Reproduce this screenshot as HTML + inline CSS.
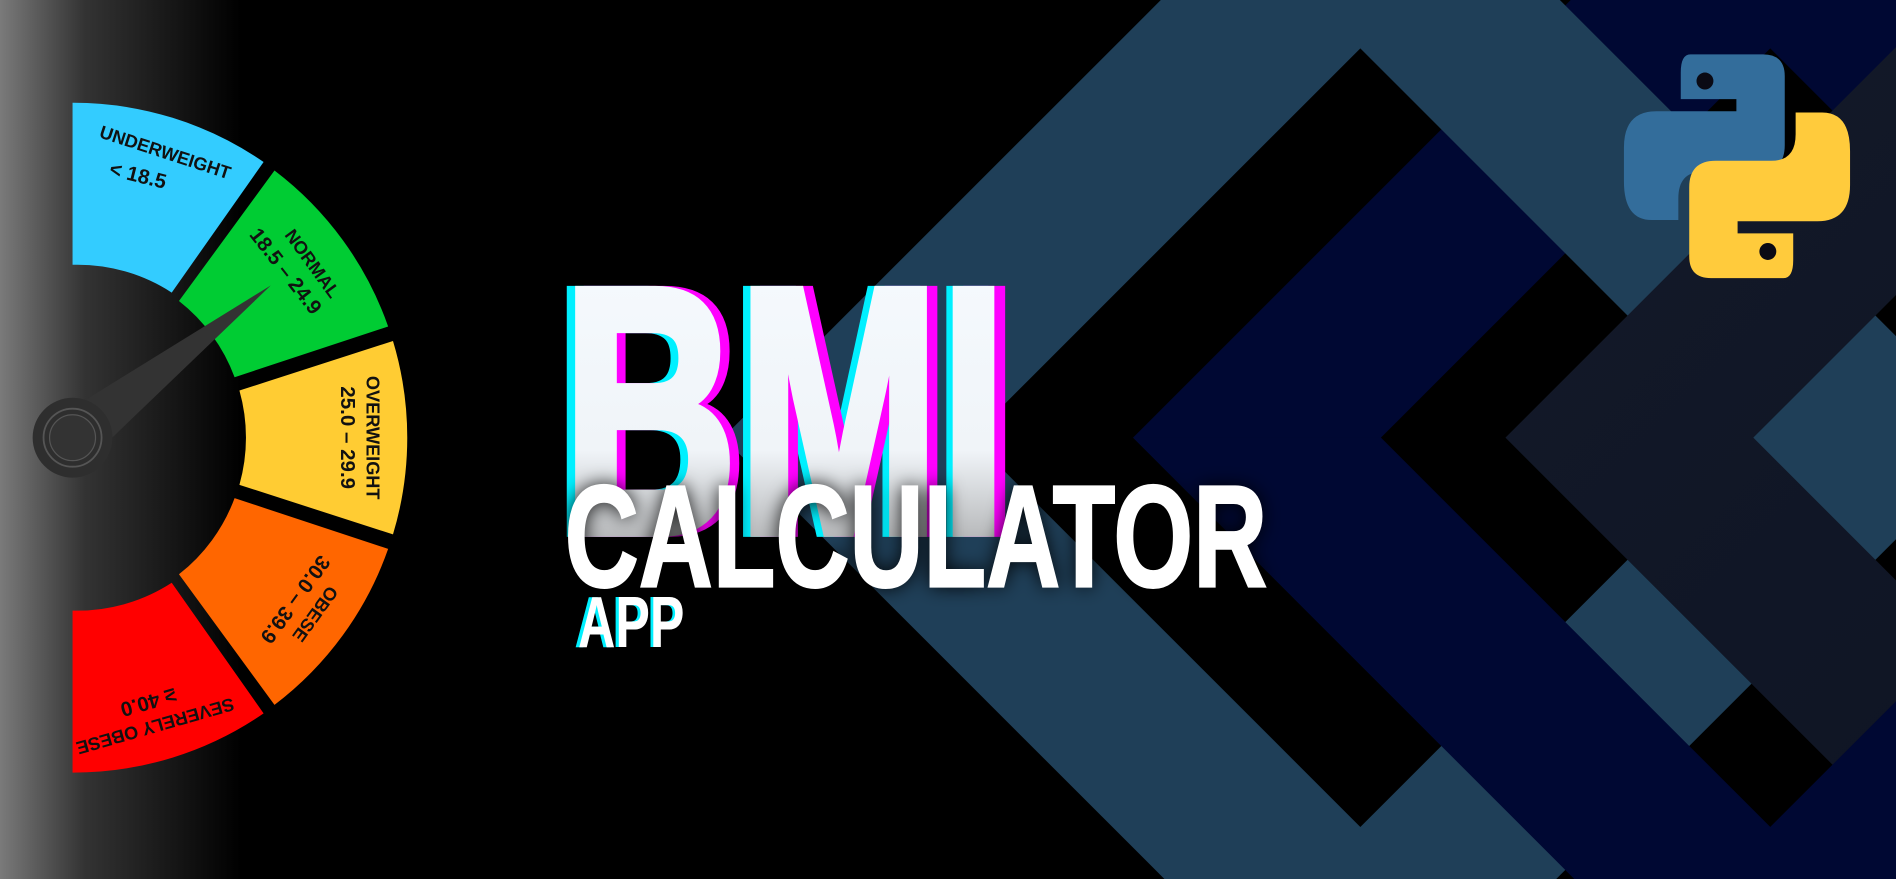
<!DOCTYPE html>
<html><head><meta charset="utf-8"><style>
html,body{margin:0;padding:0;background:#000;overflow:hidden;width:1896px;height:879px}
svg{display:block;overflow:hidden}
text{font-family:"Liberation Sans",sans-serif;font-weight:bold}
</style></head><body>
<svg width="1896" height="879" viewBox="0 0 1568 727" preserveAspectRatio="none" xmlns="http://www.w3.org/2000/svg">
<defs>
<linearGradient id="lg" x1="0" x2="1" y1="0" y2="0"><stop offset="0" stop-color="#7a7a7a"/><stop offset="0.35" stop-color="#333"/><stop offset="1" stop-color="#000"/></linearGradient>
<linearGradient id="bmiG" x1="0" x2="0" y1="0" y2="1"><stop offset="0" stop-color="#f6fbff"/><stop offset="0.6" stop-color="#f0f4f8"/><stop offset="1" stop-color="#8a8a8a"/></linearGradient>
<linearGradient id="darkG" x1="0" x2="1" y1="0" y2="1"><stop offset="0" stop-color="#141a2a"/><stop offset="1" stop-color="#0b1120"/></linearGradient>
<filter id="glow" x="-20%" y="-40%" width="140%" height="180%"><feGaussianBlur stdDeviation="8"/></filter>
<clipPath id="lower"><rect x="0" y="362" width="1568" height="365"/></clipPath>
</defs>
<rect x="0" y="0" width="1568" height="727" fill="#000"/>
<rect x="0" y="0" width="200" height="727" fill="url(#lg)"/>

<path fill="#000833" fill-rule="evenodd" d="M1464,-165 L1991,362 L1464,889 L937,362 Z M1464,40 L1786,362 L1464,684 L1142,362 Z"/>
<path fill="#1f3f58" fill-rule="evenodd" d="M1125,-165 L1652,362 L1125,889 L598,362 Z M1125,40 L1447,362 L1125,684 L803,362 Z"/>
<path fill="url(#darkG)" fill-rule="evenodd" d="M1772,-165 L2299,362 L1772,889 L1245,362 Z M1772,40 L2094,362 L1772,684 L1450,362 Z"/>
<path clip-path="url(#lower)" fill="#000833" fill-rule="evenodd" d="M1464,-165 L1991,362 L1464,889 L937,362 Z M1464,40 L1786,362 L1464,684 L1142,362 Z"/>

<g>
<path fill="#33ccff" d="M60,85 A277,277 0 0 1 218,134 L142,242 A143,143 0 0 0 60,219 Z"/>
<path fill="#00cc33" d="M227,141 A277,277 0 0 1 321,270 L194,312 A143,143 0 0 0 148,249 Z"/>
<path fill="#ffcc33" d="M325,282 A277,277 0 0 1 325,442 L198,401 A143,143 0 0 0 198,323 Z"/>
<path fill="#ff6600" d="M321,454 A277,277 0 0 1 227,583 L148,475 A143,143 0 0 0 194,412 Z"/>
<path fill="#ff0000" d="M218,590 A277,277 0 0 1 60,639 L60,505 A143,143 0 0 0 142,482 Z"/>
<g font-family="Liberation Sans" fill="#111" font-size="15" text-anchor="middle">
<text transform="translate(60,362) rotate(-72) translate(243,0) rotate(90)">UNDERWEIGHT</text>
<text font-size="17" transform="translate(60,362) rotate(-76) translate(218,0) rotate(90)">&lt; 18.5</text>
<text transform="translate(60,362) rotate(-36) translate(240,0) rotate(90)">NORMAL</text>
<text font-size="17" transform="translate(60,362) rotate(-38) translate(218,0) rotate(90)">18.5 – 24.9</text>
<text transform="translate(60,362) translate(243,0) rotate(90)">OVERWEIGHT</text>
<text font-size="17" transform="translate(60,362) translate(222,0) rotate(90)">25.0 – 29.9</text>
<text transform="translate(60,362) rotate(36) translate(243,0) rotate(90)">OBESE</text>
<text font-size="17" transform="translate(60,362) rotate(36) translate(222,0) rotate(90)">30.0 – 39.9</text>
<text transform="translate(60,362) rotate(74) translate(243,0) rotate(90)">SEVERELY OBESE</text>
<text font-size="17" transform="translate(60,362) rotate(74) translate(222,0) rotate(90)">≥ 40.0</text>
</g>
<polygon points="224,236 74,380 46,346" fill="#333"/>
<circle cx="60" cy="362" r="33" fill="#2e2e2e"/>
<circle cx="60" cy="362" r="24" fill="none" stroke="#555" stroke-width="1.5"/>
<circle cx="60" cy="362" r="19" fill="#333" stroke="#555" stroke-width="1"/>
</g>

<g>
<text x="458" y="440" font-size="290" textLength="370" lengthAdjust="spacingAndGlyphs" fill="#00f0ff" stroke="#00f0ff" stroke-width="8">BMI</text>
<text x="472" y="440" font-size="290" textLength="370" lengthAdjust="spacingAndGlyphs" fill="#ff00ff" stroke="#ff00ff" stroke-width="8">BMI</text>
<text x="465" y="440" font-size="290" textLength="368" lengthAdjust="spacingAndGlyphs" fill="url(#bmiG)" stroke="url(#bmiG)" stroke-width="8">BMI</text>
<text x="467" y="485" font-size="120" textLength="581" lengthAdjust="spacingAndGlyphs" fill="#000" filter="url(#glow)">CALCULATOR</text>
<text x="467" y="485" font-size="120" textLength="581" lengthAdjust="spacingAndGlyphs" fill="#fff" stroke="#fff" stroke-width="2">CALCULATOR</text>
<text x="475" y="535" font-size="60" textLength="89" lengthAdjust="spacingAndGlyphs" fill="#00f0ff">APP</text>
<text x="478" y="535" font-size="60" textLength="88" lengthAdjust="spacingAndGlyphs" fill="#fff">APP</text>
</g>

<g>
<path fill="#336d9b" d="M1398,45 H1458 Q1476,45 1476,63 V120 Q1476,142 1454,142 H1408 Q1388,142 1388,164 V182 H1366 Q1343,182 1343,150 V122 Q1343,92 1370,92 H1436 V82 H1390 V60 Q1390,45 1398,45 Z"/>
<path fill="#ffcb3c" transform="rotate(180 1436.5 137.5)" d="M1398,45 H1458 Q1476,45 1476,63 V120 Q1476,142 1454,142 H1408 Q1388,142 1388,164 V182 H1366 Q1343,182 1343,150 V122 Q1343,92 1370,92 H1436 V82 H1390 V60 Q1390,45 1398,45 Z"/>
<circle cx="1410" cy="67" r="7" fill="#0a0a14"/>
<circle cx="1462" cy="208" r="7" fill="#0a0a14"/>
</g>
</svg>
</body></html>
